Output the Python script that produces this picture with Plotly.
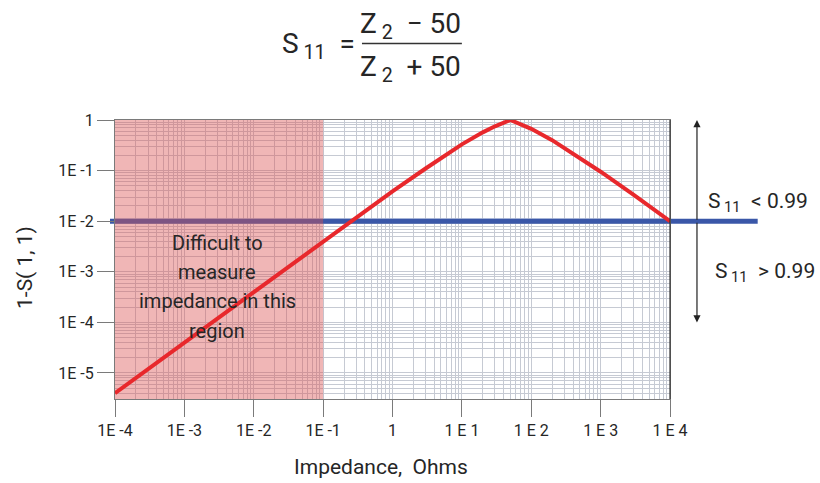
import plotly.graph_objects as go

# Reflection curve: 1 - |S11| versus load impedance (ohms)
impedance = [1e-4, 1e-3, 1e-2, 1e-1, 1, 3, 10, 20, 30, 50, 70, 100, 200, 500, 1e3, 3e3, 1e4]
one_minus_s11 = [4e-6, 4e-5, 4e-4, 4e-3, 0.039, 0.11, 0.33, 0.57, 0.75, 1.0, 0.83, 0.67,
                 0.40, 0.18, 0.095, 0.033, 0.01]

# Measurement threshold and hard-to-measure region
threshold = 0.01
region_x = [1e-4, 1e-1]
region_lines = ["Difficult to", "measure", "impedance in this", "region"]

# Axis ticks
x_tickvals = [1e-4, 1e-3, 1e-2, 1e-1, 1, 1e1, 1e2, 1e3, 1e4]
x_ticktext = ["1E -4", "1E -3", "1E -2", "1E -1", "1", "1 E 1", "1 E 2", "1 E 3", "1 E 4"]
y_tickvals = [1, 1e-1, 1e-2, 1e-3, 1e-4, 1e-5]
y_ticktext = ["1", "1E -1", "1E -2", "1E -3", "1E -4", "1E -5"]

x_range = [-4, 4]
y_range = [-5.514, 0]

FONT = "Roboto, Liberation Sans, sans-serif"
TXT = "#262626"
GRID = "#c6cad3"
BLUE = "#3a57a8"
RED = "#e8282c"

fig = go.Figure()

fig.add_trace(go.Scatter(
    x=impedance, y=one_minus_s11, mode="lines",
    line=dict(color=RED, width=4), hoverinfo="skip", showlegend=False,
))

axis_common = dict(
    type="log", showgrid=True, gridcolor=GRID, gridwidth=1,
    minor=dict(dtick="D1", showgrid=True, gridcolor=GRID, gridwidth=1, ticks=""),
    ticks="outside", ticklen=17, tickcolor="#7a7a7a", tickwidth=1.2,
    showline=True, linecolor="#7a7a7a", linewidth=1.3, mirror=True,
    tickfont=dict(family=FONT, size=16, color=TXT), zeroline=False,
)

fig.update_xaxes(range=x_range, tickvals=x_tickvals, ticktext=x_ticktext, **axis_common)
fig.update_yaxes(range=y_range, tickvals=y_tickvals, ticktext=y_ticktext, **axis_common)

y_bottom = 10 ** y_range[0]

shapes = [
    # threshold line, extended past the plot edges (drawn under the grid)
    dict(type="line", xref="paper", yref="y", x0=-0.009, x1=1.158,
         y0=threshold, y1=threshold, line=dict(color=BLUE, width=5), layer="below"),
    # threshold line over the grid inside the plot
    dict(type="line", xref="x", yref="y", x0=x_tickvals[0], x1=x_tickvals[-1],
         y0=threshold, y1=threshold, line=dict(color=BLUE, width=5), layer="between"),
    # shaded region
    dict(type="rect", xref="x", yref="y", x0=region_x[0], x1=region_x[1],
         y0=y_bottom, y1=1, fillcolor="rgba(219,81,81,0.42)", line=dict(width=0),
         layer="between"),
    # fraction bar of the formula
    dict(type="line", xref="paper", yref="paper", x0=0.445, x1=0.625, y0=1.274, y1=1.274,
         line=dict(color="#333333", width=1.5)),
    # right frame edge
    dict(type="line", xref="paper", yref="paper", x0=1, x1=1, y0=0, y1=1,
         line=dict(color="#333333", width=1.2)),
]


def label(text, x, y, size, xanchor="center", **kw):
    return dict(text=text, xref="paper", yref="paper", x=x, y=y, xanchor=xanchor,
                yanchor="middle", showarrow=False,
                font=dict(family=FONT, size=size, color=TXT), **kw)


annotations = [label(t, 0.184, yy, 20)
               for t, yy in zip(region_lines, [0.558, 0.454, 0.350, 0.245])]

annotations += [
    label("S<sub> 11</sub>  < 0.99", 1.065, 0.703, 21, xanchor="left"),
    label("S<sub> 11</sub>  > 0.99", 1.078, 0.455, 21, xanchor="left"),
    # formula
    label("S<sub> 11</sub>  =", 0.366, 1.267, 28),
    label("Z<sub> 2</sub>  − 50", 0.532, 1.338, 28),
    label("Z<sub> 2</sub>  + 50", 0.532, 1.185, 28),
    # axis titles
    label("Impedance,  Ohms", 0.48, -0.245, 21),
    label("1-S( 1, 1)", -0.162, 0.47, 21, textangle=-90),
    # double-headed arrow
    dict(text="", xref="paper", yref="y", x=1.0486, y=0, ax=0, ay=-2,
         axref="pixel", ayref="y", showarrow=True, arrowhead=2, arrowsize=1.2,
         arrowwidth=1.2, arrowcolor="#222222"),
    dict(text="", xref="paper", yref="y", x=1.0486, y=-4, ax=0, ay=-2,
         axref="pixel", ayref="y", showarrow=True, arrowhead=2, arrowsize=1.2,
         arrowwidth=1.2, arrowcolor="#222222"),
]

fig.update_layout(
    width=820, height=483,
    margin=dict(l=115, r=150, t=120, b=84),
    paper_bgcolor="white", plot_bgcolor="white",
    shapes=shapes, annotations=annotations, showlegend=False,
    font=dict(family=FONT, color=TXT),
)

fig.write_html("out.html")
